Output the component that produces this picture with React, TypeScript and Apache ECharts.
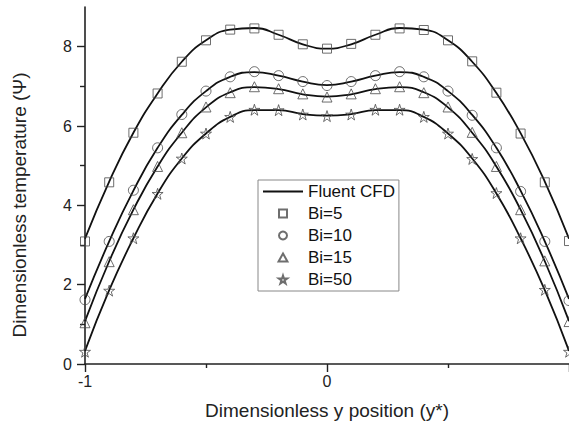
import React, { useEffect, useRef } from "react";
import * as echarts from "echarts";

// Dimensionless position across the channel
const positions = [
  -1, -0.9, -0.8, -0.7, -0.6, -0.5, -0.4, -0.3, -0.2, -0.1, 0,
  0.1, 0.2, 0.3, 0.4, 0.5, 0.6, 0.7, 0.8, 0.9, 1,
];

// Analytical points for each Biot number
const bi5 = [3.09, 4.58, 5.83, 6.82, 7.62, 8.16, 8.43, 8.46, 8.3, 8.06, 7.95, 8.07, 8.3, 8.46, 8.42, 8.16, 7.63, 6.84, 5.81, 4.58, 3.1];
const bi10 = [1.62, 3.09, 4.38, 5.45, 6.29, 6.88, 7.24, 7.37, 7.27, 7.12, 7.02, 7.12, 7.27, 7.37, 7.24, 6.88, 6.27, 5.45, 4.35, 3.09, 1.6];
const bi15 = [1.04, 2.58, 3.89, 4.98, 5.83, 6.48, 6.84, 6.99, 6.94, 6.81, 6.73, 6.81, 6.94, 6.99, 6.84, 6.48, 5.84, 4.98, 3.89, 2.6, 1.07];
const bi50 = [0.31, 1.85, 3.17, 4.29, 5.18, 5.81, 6.23, 6.41, 6.4, 6.29, 6.25, 6.29, 6.41, 6.41, 6.23, 5.81, 5.17, 4.31, 3.17, 1.87, 0.31];

// Fluent CFD profiles
const cfd5 = [3.16, 4.6, 5.83, 6.82, 7.62, 8.16, 8.43, 8.47, 8.3, 8.06, 7.95, 8.06, 8.3, 8.47, 8.43, 8.16, 7.62, 6.83, 5.82, 4.6, 3.16];
const cfd10 = [1.64, 3.09, 4.37, 5.45, 6.28, 6.88, 7.24, 7.36, 7.27, 7.12, 7.03, 7.12, 7.27, 7.36, 7.24, 6.88, 6.28, 5.45, 4.37, 3.09, 1.64];
const cfd15 = [1.08, 2.59, 3.89, 4.98, 5.83, 6.47, 6.85, 6.98, 6.93, 6.8, 6.74, 6.8, 6.93, 6.98, 6.85, 6.47, 5.83, 4.98, 3.89, 2.59, 1.08];
const cfd50 = [0.33, 1.86, 3.17, 4.3, 5.18, 5.81, 6.23, 6.4, 6.4, 6.3, 6.26, 6.3, 6.4, 6.4, 6.23, 5.81, 5.18, 4.3, 3.17, 1.86, 0.33];

const yMajorTicks = [0, 2, 4, 6, 8];
const yMinorTicks = [1, 3, 5, 7];
const xMajorTicks = [-1, 0, 1];
const xMinorTicks = [-0.5, 0.5];
const xLabels = [-1, 0];

const FONT = "'Liberation Sans', Arial, sans-serif";
const SQUARE = "path://M0,0 L10,0 L10,10 L0,10 Z";
const TRIANGLE = "path://M5,0 L10,9 L0,9 Z";
const STAR = "path://M50,2 L61,36 L97,36 L68,57 L79,92 L50,71 L21,92 L32,57 L3,36 L39,36 Z";
const LINE_ICON = "path://M0,0 L40,0 L40,1.8 L0,1.8 Z";

const pair = (ys: number[]) => positions.map((x, i) => [x, ys[i]]);

export default function App() {
  const ref = useRef<HTMLDivElement>(null);

  useEffect(() => {
    if (!ref.current) return;
    const chart = echarts.init(ref.current, null, { renderer: "svg" });

    const cfdSeries = [cfd5, cfd10, cfd15, cfd50].map((ys) => ({
      name: "Fluent CFD",
      type: "line",
      data: pair(ys),
      smooth: 0.5,
      symbol: "none",
      lineStyle: { color: "#111", width: 1.8 },
      itemStyle: { color: "#111" },
      z: 2,
    }));

    const markerStyle = { color: "transparent", borderColor: "#4a4a4a", borderWidth: 1 };
    const scatter = (name: string, ys: number[], symbol: string, size: number) => ({
      name,
      type: "scatter",
      data: pair(ys),
      symbol,
      symbolSize: size,
      itemStyle: markerStyle,
      z: 3,
    });

    const axisColor = "#222";

    chart.setOption({
      animation: false,
      grid: { left: 85, right: 0, top: 7, bottom: 66 },
      xAxis: [
        {
          type: "value",
          min: -1,
          max: 1,
          name: "Dimensionless y position (y*)",
          nameLocation: "middle",
          nameGap: 37,
          nameTextStyle: { fontSize: 19, color: "#222", fontFamily: FONT },
          axisLine: { onZero: false, lineStyle: { color: axisColor, width: 1.6 } },
          axisTick: { customValues: xMajorTicks, length: 8, lineStyle: { color: axisColor, width: 1.4 } },
          axisLabel: { customValues: xLabels, fontSize: 16, color: "#222", fontFamily: FONT, margin: 9 },
          splitLine: { show: false },
        },
        {
          type: "value",
          min: -1,
          max: 1,
          position: "bottom",
          axisLine: { show: false, onZero: false },
          axisTick: { customValues: xMinorTicks, length: 4, lineStyle: { color: axisColor, width: 1.4 } },
          axisLabel: { show: false },
          splitLine: { show: false },
        },
      ],
      yAxis: [
        {
          type: "value",
          min: 0,
          max: 9,
          position: "left",
          axisLine: { show: true, onZero: false, lineStyle: { color: axisColor, width: 1.6 } },
          axisTick: { show: true, customValues: yMajorTicks, length: 8, lineStyle: { color: axisColor, width: 1.4 } },
          axisLabel: { customValues: yMajorTicks, fontSize: 16, color: "#222", fontFamily: FONT, margin: 13 },
          splitLine: { show: false },
        },
        {
          type: "value",
          min: 0,
          max: 9,
          position: "left",
          axisLine: { show: false, onZero: false },
          axisTick: { show: true, customValues: yMinorTicks, length: 5, lineStyle: { color: axisColor, width: 1.4 } },
          axisLabel: { show: false },
          splitLine: { show: false },
        },
      ],
      legend: {
        orient: "vertical",
        left: 258,
        top: 180,
        data: [
          { name: "Fluent CFD", icon: LINE_ICON, itemStyle: { color: "#111", borderWidth: 0 } },
          { name: "Bi=5" },
          { name: "Bi=10" },
          { name: "Bi=15" },
          { name: "Bi=50" },
        ],
        borderColor: "#888",
        borderWidth: 1,
        padding: [3, 4, 3, 5],
        itemWidth: 40,
        itemHeight: 8,
        itemGap: 5,
        textStyle: { fontSize: 17, color: "#111", fontFamily: FONT },
      },
      graphic: [
        {
          type: "text",
          x: 19,
          y: 205,
          rotation: Math.PI / 2,
          style: {
            text: "Dimensionless temperature (Ψ)",
            fontSize: 19,
            fill: "#222",
            fontFamily: FONT,
            align: "center",
            verticalAlign: "middle",
          },
        },
      ],
      series: [
        ...cfdSeries,
        scatter("Bi=5", bi5, SQUARE, 9),
        scatter("Bi=10", bi10, "circle", 10),
        scatter("Bi=15", bi15, TRIANGLE, 10),
        scatter("Bi=50", bi50, STAR, 11),
      ],
    });

    return () => chart.dispose();
  }, []);

  return (
    <div
      ref={ref}
      style={{ position: "fixed", left: 0, top: 0, width: 569, height: 430, background: "#fff" }}
    />
  );
}
